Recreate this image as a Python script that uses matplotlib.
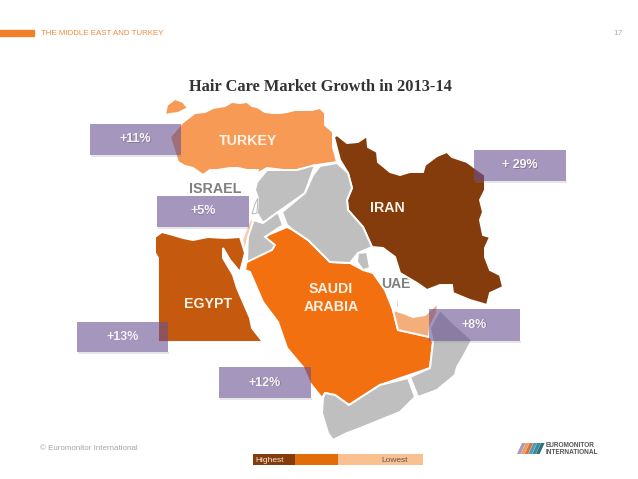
import matplotlib
matplotlib.use("Agg")
import matplotlib.pyplot as plt
from matplotlib.patches import Polygon, Rectangle

plt.rcParams['font.family'] = ['Liberation Sans', 'DejaVu Sans']

# contornos de los paises (pixeles)
thrace = [(165,115),(167,105),(175,99),(183,102),(188,108),(178,113),(170,114)]
turkey = [(182,123),(195,113),(205,112),(213,108),(225,106),(232,102),(240,103),(247,102),(252,106),(257,107),
          (265,112),(273,113),(280,113),(287,112),(295,110),(303,110),(312,110),(320,108),(325,113),(325,125),
          (333,132),(333,147),(337,162),(317,165),(297,170),(283,170),(267,168),(260,172),(257,178),(258,170),
          (247,170),(238,168),(230,168),(217,170),(210,170),(203,175),(193,168),(185,166),(178,162),(175,153),(170,137)]
iran = [(334,137),(337,135),(347,143),(358,142),(367,136),(368,147),(377,152),(378,162),(390,172),
        (400,175),(410,172),(423,172),(425,165),(437,156),(447,152),(452,157),(467,162),(475,168),
        (485,175),(485,190),(480,200),(483,212),(480,220),(483,235),(490,237),(485,248),(485,257),
        (490,270),(500,275),(503,287),(490,293),(487,305),(470,300),(453,293),(452,285),(440,285),
        (427,290),(417,283),(400,273),(395,257),(383,248),(372,247),(363,227),(348,210),(347,200),
        (352,188),(348,173),(340,160)]
egypt = [(155,237),(162,232),(173,235),(183,238),(193,240),(208,237),(225,238),(240,237),(245,253),(240,272),
         (230,260),(223,248),(223,258),(233,275),(237,288),(250,318),(252,328),(263,342),(158,342),
         (158,258),(155,253)]
saudi = [(268,235),(287,227),(293,230),(308,240),(330,262),(350,263),(363,270),(373,273),(385,290),
         (393,310),(398,330),(430,337),(433,342),(430,368),(380,385),(349,405),(335,395),(325,393),
         (322,398),(310,383),(303,367),(287,348),(278,322),(263,302),(250,272),(245,270),(247,260),
         (270,250),(273,245),(265,238)]
uae = [(393,310),(403,313),(413,317),(425,315),(438,303),(437,313),(430,327),(429,337),(398,330)]
oman = [(437,315),(440,310),(453,323),(472,340),(463,357),(457,367),(455,375),(437,390),(418,397),
        (410,377),(430,368),(433,342),(430,328)]
yemen = [(408,378),(415,397),(400,412),(380,420),(363,427),(347,433),(333,440),(328,433),(322,413),
         (323,398),(325,393),(335,395),(349,405),(380,385)]
syria = [(257,182),(267,170),(283,170),(297,170),(315,165),(305,193),(278,212),(263,223),(257,213),
         (258,198),(255,190)]
iraq = [(320,166),(337,163),(348,173),(352,188),(347,200),(348,210),(363,227),(372,247),(358,253),
        (350,263),(330,262),(308,240),(293,230),(287,225),(282,212),(305,193),(313,175)]
jordan = [(278,212),(283,225),(265,237),(275,245),(272,250),(247,262),(248,233),(253,220),(263,223)]
israel = [(252,215),(253,222),(248,237),(245,252),(242,240),(247,227)]
kuwait = [(358,253),(367,252),(370,268),(363,270),(357,262)]
lebanon = [(258,198),(257,213),(252,214),(255,204)]
qatar = [(396,297),(398,298),(399,308),(396,307)]

map_shapes = [
    (thrace, '#f79a56'), (turkey, '#f79a56'), (iran, '#843c0c'), (egypt, '#c55a0e'),
    (saudi, '#f37011'), (uae, '#f4ae7c'), (oman, '#bfbfbf'), (yemen, '#bfbfbf'),
    (syria, '#bfbfbf'), (iraq, '#bfbfbf'), (jordan, '#bfbfbf'), (israel, '#f8cdaf'),
    (kuwait, '#bfbfbf'), (qatar, '#bfbfbf'),
]

# crecimiento por pais
growth_labels = ['+11%', '+5%', '+ 29%', '+8%', '+13%', '+12%']
growth_boxes = [(90,124,91,31), (157,196,92,31), (474,150,92,31),
                (429,309,91,32), (77,322,91,30), (219,367,92,31)]

country_names = ['TURKEY', 'IRAN', 'EGYPT', 'SAUDI\nARABIA']
country_pos = [(248,141), (387,208), (208,304), (331,298)]

legend_colors = ['#843c0c', '#e36c0a', '#fac090']
legend_edges = [253, 295, 338, 423]

logo_colors = ['#a79ac4', '#e9a05c', '#d9763c', '#4f9bc4', '#3a8d8b', '#2f6f7f']

fig = plt.figure(figsize=(6.38, 4.79), dpi=100)
ax = fig.add_axes([0, 0, 1, 1])
ax.set_xlim(0, 638)
ax.set_ylim(479, 0)
ax.axis('off')

# cabecera
ax.add_patch(Rectangle((0, 30), 34, 6, color='#f0802a'))
ax.text(41, 33, 'THE MIDDLE EAST AND TURKEY', color='#ee8a3c', fontsize=5.7, va='center')
ax.text(623, 33, '17', color='#b0b0b0', fontsize=6, va='center', ha='right')
ax.text(320, 86.5, 'Hair Care Market Growth in 2013-14', family='Liberation Serif',
        fontweight='bold', fontsize=11.8, color='#333333', ha='center', va='center')

# mapa
for puntos, color in map_shapes:
    ax.add_patch(Polygon(puntos, closed=True, facecolor=color, edgecolor='white', lw=1.4, zorder=2))
ax.add_patch(Polygon(lebanon, closed=True, facecolor='white', edgecolor='#bfbfbf', lw=0.8, zorder=2))

for nombre, (x, y) in zip(country_names, country_pos):
    ax.text(x, y, nombre, color='#fdf3e7', fontsize=10.2, fontweight='bold', ha='center',
            va='center', linespacing=1.3, zorder=6)
ax.text(215.5, 189, 'ISRAEL', color='#7f7f7f', fontsize=10.3, fontweight='bold', ha='center', va='center', zorder=3)
ax.text(396, 283.5, 'UAE', color='#7f7f7f', fontsize=10, fontweight='bold', ha='center', va='center', zorder=1)

# cajas con el crecimiento
for etiqueta, (x, y, w, h) in zip(growth_labels, growth_boxes):
    ax.add_patch(Rectangle((x + 1, y + h), w, 1.5, facecolor='#888888', alpha=0.2, lw=0, zorder=4))
    ax.add_patch(Rectangle((x, y), w, h, facecolor='#695093', alpha=0.6, lw=0, zorder=5))
    ax.text(x + w / 2 + 0.5, y + h / 2 + 0.5, etiqueta, color='#555555', alpha=0.4, fontsize=9,
            fontweight='bold', ha='center', va='center', zorder=6)
    ax.text(x + w / 2, y + h / 2, etiqueta, color='#f7f4fa', fontsize=9,
            fontweight='bold', ha='center', va='center', zorder=7)

# pie
ax.text(40, 449, '© Euromonitor International', color='#a6a6a6', fontsize=5.8, va='center')
for i, color in enumerate(legend_colors):
    ax.add_patch(Rectangle((legend_edges[i], 454), legend_edges[i + 1] - legend_edges[i], 11, color=color, lw=0))
ax.text(255, 460, 'Highest', color='#f5e6d8', fontsize=6, va='center')
ax.text(381, 460, 'Lowest', color='#595959', fontsize=6, va='center')

# logo
for i, color in enumerate(logo_colors):
    x0 = 517 + i * 3.8
    ax.add_patch(Polygon([(x0, 454), (x0 + 3.6, 454), (x0 + 8.6, 443), (x0 + 5, 443)], closed=True, color=color, lw=0))
ax.text(546, 449, 'EUROMONITOR\nINTERNATIONAL', color='#555555', fontsize=4.7, fontweight='bold',
        va='center', linespacing=1.05)
fig.savefig('out.png', dpi=100)
